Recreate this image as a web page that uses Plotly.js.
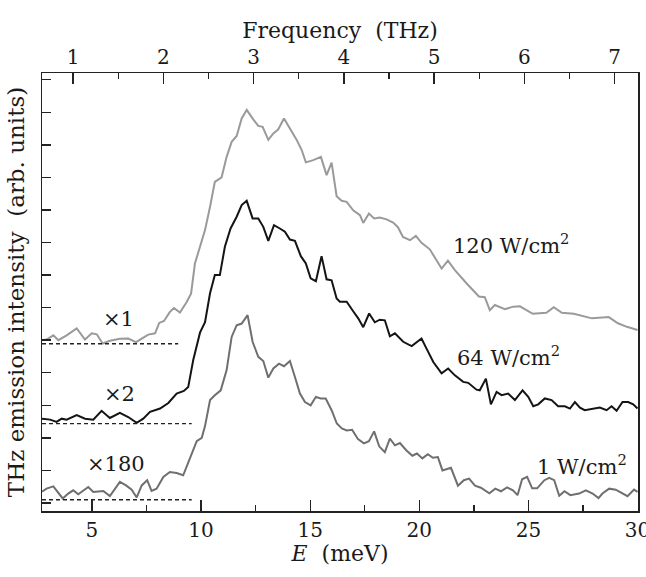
<!DOCTYPE html>
<html>
<head>
<meta charset="utf-8">
<script src="https://cdn.plot.ly/plotly-3.0.1.min.js"></script>
<style>html,body{margin:0;padding:0;background:#fff;}#chart{width:646px;height:577px;}</style>
</head>
<body>
<div id="chart"></div>
<script>
// Photon energy (meV) and intensity (arb. units, vertically offset) for 120 W/cm^2
const E_120 = [2.71,2.92,3.23,3.46,3.84,4.30,4.68,4.99,5.22,5.49,5.82,6.28,6.66,7.02,7.28,7.58,7.89,8.08,8.30,8.57,8.76,9.03,9.34,9.54,9.72,9.95,10.18,10.41,10.63,10.94,11.17,11.40,11.63,11.86,12.09,12.39,12.62,12.82,13.08,13.31,13.53,13.80,14.07,14.38,14.61,14.80,15.14,15.49,15.75,15.98,16.21,16.44,16.67,16.97,17.28,17.43,17.69,17.93,18.19,18.50,18.80,19.02,19.25,19.57,19.84,20.10,20.48,20.79,21.02,21.31,21.63,22.17,22.73,23.00,23.23,23.46,23.92,24.30,24.61,25.20,25.82,26.16,26.53,27.08,27.91,28.68,29.10,29.51,30.00];
const I_120 = [5.00,5.02,5.15,5.00,5.15,5.36,5.02,5.21,5.18,4.90,4.98,5.04,5.05,4.94,5.05,5.17,5.21,5.53,5.59,5.87,5.99,5.85,6.17,6.43,7.36,7.87,8.38,9.10,9.86,10.00,10.63,11.09,11.27,11.81,12.07,11.78,11.58,11.55,11.15,11.35,11.47,11.81,11.50,11.15,10.84,10.46,10.53,10.63,10.07,10.45,9.42,9.28,9.25,8.99,8.84,8.60,8.89,8.74,8.77,8.71,8.61,8.47,8.17,8.07,8.20,7.99,7.79,7.46,7.20,7.44,7.15,6.74,6.34,6.32,5.92,6.08,5.95,6.03,6.04,5.81,5.84,6.01,5.84,5.81,5.67,5.71,5.52,5.41,5.31];

// 64 W/cm^2
const E_64 = [2.71,3.08,3.38,3.61,3.84,4.30,4.68,5.06,5.44,5.82,6.28,6.66,7.05,7.35,7.66,8.12,8.50,8.88,9.21,9.41,9.64,9.95,10.18,10.41,10.63,10.86,11.09,11.35,11.63,11.86,12.09,12.36,12.62,12.85,13.08,13.34,13.61,13.84,14.07,14.30,14.57,14.80,15.02,15.26,15.52,15.75,15.98,16.21,16.36,16.67,16.97,17.20,17.43,17.70,17.96,18.19,18.42,18.65,18.88,19.26,19.65,20.10,20.33,20.64,21.02,21.32,21.63,22.01,22.24,22.62,22.77,23.05,23.28,23.54,23.77,24.07,24.38,24.73,24.99,25.22,25.45,25.75,26.06,26.36,26.67,26.90,27.13,27.36,27.58,27.96,28.27,28.58,28.81,29.04,29.31,29.57,29.80,30.00];
const I_64 = [2.59,2.56,2.49,2.59,2.56,2.70,2.59,2.56,2.83,2.61,2.77,2.64,2.46,2.59,2.80,2.90,3.07,3.36,3.44,3.56,4.39,5.23,5.55,6.44,7.00,7.00,7.87,8.43,8.79,9.15,9.28,8.74,8.74,8.48,8.05,8.53,8.43,8.33,8.09,8.05,7.58,7.36,6.90,6.81,7.58,6.87,6.84,6.28,6.18,6.18,5.89,5.67,5.40,5.82,5.55,5.63,5.61,5.12,5.21,4.95,4.82,5.05,4.74,4.33,3.98,4.13,3.92,3.72,3.69,3.48,3.46,3.82,3.03,3.41,3.31,3.36,3.16,3.46,3.26,2.97,3.03,3.21,3.16,2.97,2.97,2.90,3.10,2.93,2.85,2.90,2.93,2.85,2.97,2.83,3.10,3.10,3.03,2.90];

// 1 W/cm^2
const E_1 = [2.71,2.92,3.23,3.66,3.91,4.14,4.37,4.83,5.06,5.52,5.82,6.28,6.56,6.82,7.05,7.28,7.53,7.73,7.96,8.27,8.57,8.88,9.18,9.34,9.57,9.80,10.03,10.18,10.41,10.63,10.90,11.17,11.40,11.63,11.86,12.13,12.36,12.62,12.85,13.08,13.31,13.57,13.80,14.07,14.30,14.53,14.76,15.02,15.26,15.48,15.71,15.98,16.22,16.45,16.67,16.92,17.19,17.46,17.69,17.93,18.16,18.42,18.65,18.88,19.11,19.40,19.68,19.89,20.14,20.39,20.62,20.85,21.06,21.45,21.77,22.04,22.28,22.55,22.82,23.21,23.48,23.74,24.02,24.29,24.50,24.71,24.94,25.17,25.40,25.73,25.95,26.18,26.41,26.65,26.92,27.32,27.63,27.94,28.21,28.39,28.70,29.00,29.54,29.84,30.00];
const I_1 = [0.35,0.44,0.51,0.14,0.29,0.39,0.27,0.49,0.34,0.37,0.21,0.65,0.54,0.41,0.17,0.54,0.70,0.37,0.44,0.80,0.95,0.92,0.85,1.11,1.52,1.90,2.00,2.36,3.16,3.31,3.46,4.08,5.10,5.46,5.51,5.77,4.95,4.49,4.36,3.85,4.13,4.28,4.20,4.36,3.87,3.36,3.10,3.00,3.26,3.21,3.21,2.85,2.44,2.29,2.23,2.25,1.96,1.83,1.90,2.20,1.74,1.56,1.98,1.77,1.84,1.62,1.45,1.52,1.37,1.50,1.39,1.41,1.00,1.08,0.53,0.70,0.75,0.53,0.47,0.30,0.44,0.36,0.48,0.39,0.24,0.73,0.80,0.45,0.45,0.70,0.77,0.70,0.22,0.36,0.24,0.29,0.39,0.29,0.15,0.29,0.44,0.41,0.21,0.41,0.34];

// Zero-level baselines (dashed) for each curve
const baseLevel = [4.89, 2.44, 0.10];
const baseEnd = [8.95, 9.57, 9.57];

// Labels
const powerLabels = ["120 W/cm<sup>2</sup>", "64 W/cm<sup>2</sup>", "1 W/cm<sup>2</sup>"];
const powerLabelE = [24.18, 24.09, 27.45];
const powerLabelI = [7.95, 4.51, 1.16];
const scaleLabels = ["\u00d71", "\u00d72", "\u00d7180"];
const scaleLabelE = [6.20, 6.28, 6.09];
const scaleLabelI = [5.64, 3.36, 1.21];

const MEV_PER_THZ = 4.1357;
const E_MIN = 2.71, E_MAX = 30.02;

const colors = ["#9a9a9a", "#141414", "#6f6f6f"];
const serif = "DejaVu Serif";

const traces = [];
const sets = [[E_120, I_120], [E_64, I_64], [E_1, I_1]];
sets.forEach((s, i) => {
  traces.push({x: s[0], y: s[1], type: 'scatter', mode: 'lines',
    line: {color: colors[i], width: 2}, showlegend: false, hoverinfo: 'skip'});
});
baseLevel.forEach((b, i) => {
  traces.push({x: [E_MIN, baseEnd[i]], y: [b, b], type: 'scatter', mode: 'lines',
    line: {color: '#222', width: 1.3, dash: '4px,3px'}, showlegend: false, hoverinfo: 'skip'});
});
// helper trace to realise the top frequency axis
traces.push({x: E_120.map(e => e / MEV_PER_THZ), y: E_120.map(() => null), xaxis: 'x2', yaxis: 'y',
  type: 'scatter', mode: 'lines', showlegend: false, hoverinfo: 'skip'});

const annotations = [];
powerLabels.forEach((t, i) => annotations.push({x: powerLabelE[i], y: powerLabelI[i], xref: 'x', yref: 'y',
  text: t, showarrow: false, xanchor: 'center', yanchor: 'middle', font: {family: serif, size: 21, color: '#1a1a1a'}}));
scaleLabels.forEach((t, i) => annotations.push({x: scaleLabelE[i], y: scaleLabelI[i], xref: 'x', yref: 'y',
  text: t, showarrow: false, xanchor: 'center', yanchor: 'middle', font: {family: serif, size: 21, color: '#1a1a1a'}}));

const layout = {
  width: 646, height: 577,
  margin: {l: 42, r: 8, t: 73, b: 66, pad: 0},
  paper_bgcolor: '#fff', plot_bgcolor: '#fff',
  font: {family: serif, color: '#1a1a1a', size: 20},
  xaxis: {
    range: [E_MIN, E_MAX], tick0: 0, dtick: 5, ticks: 'inside', ticklen: 11, tickwidth: 1.4, tickcolor: '#222',
    minor: {dtick: 2.5, ticks: 'inside', ticklen: 6, tickwidth: 1.4, tickcolor: '#222'},
    showline: true, linecolor: '#222', linewidth: 1.5, showgrid: false, zeroline: false,
    ticklabeloverflow: 'allow',
    tickfont: {family: serif, size: 20},
    title: {text: '<i>E</i>\u00a0 (meV)', font: {family: serif, size: 22}, standoff: 1}
  },
  xaxis2: {
    overlaying: 'x', side: 'top', anchor: 'y',
    range: [E_MIN / MEV_PER_THZ, E_MAX / MEV_PER_THZ], tick0: 0, dtick: 1, ticks: 'inside', ticklen: 11, tickwidth: 1.4, tickcolor: '#222',
    minor: {dtick: 0.5, ticks: 'inside', ticklen: 6, tickwidth: 1.4, tickcolor: '#222'},
    showline: true, linecolor: '#222', linewidth: 1.5, showgrid: false, zeroline: false,
    tickfont: {family: serif, size: 20},
    title: {text: 'Frequency\u00a0 (THz)', font: {family: serif, size: 22}, standoff: 0}
  },
  yaxis: {
    range: [-0.246, 13.205], tick0: 0, dtick: 1, ticks: 'inside', ticklen: 9, tickwidth: 1.4, tickcolor: '#222',
    showticklabels: false, showline: true, mirror: true, linecolor: '#222', linewidth: 1.5,
    showgrid: false, zeroline: false,
    title: {text: 'THz emission intensity\u00a0 (arb. units)', font: {family: serif, size: 23}, standoff: 9}
  },
  annotations: annotations
};

Plotly.newPlot('chart', traces, layout, {displayModeBar: false, staticPlot: true});
</script>
</body>
</html>
